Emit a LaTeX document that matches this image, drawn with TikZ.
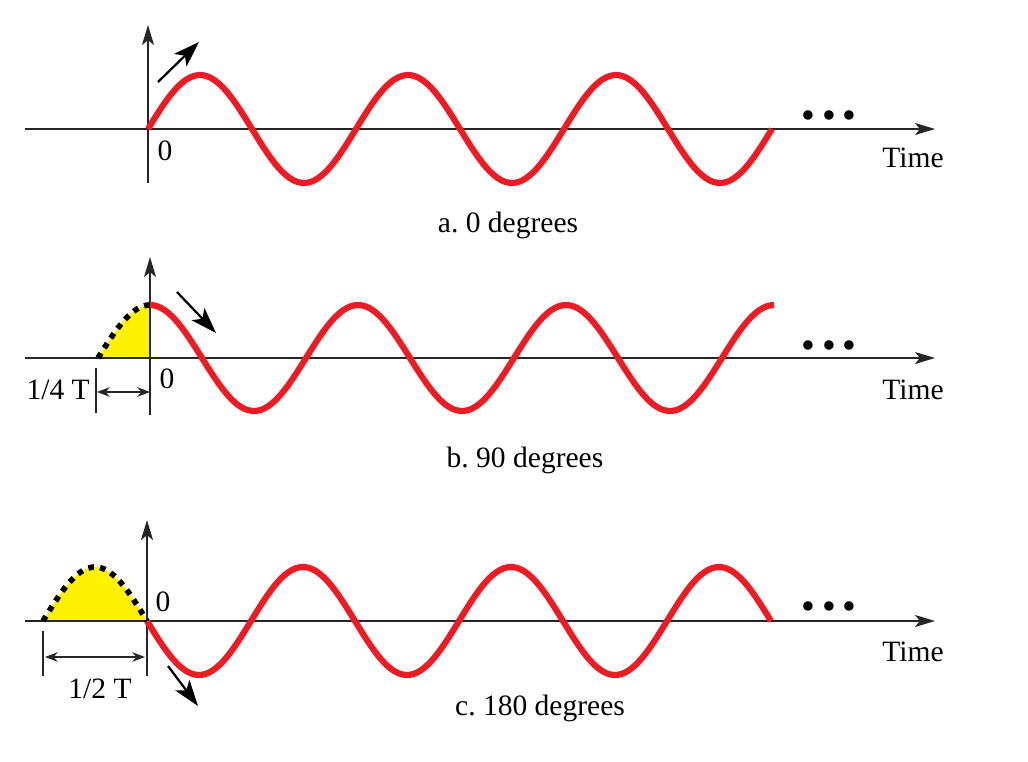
\documentclass[tikz,border=0pt]{standalone}
\usepackage{fontspec}
\setmainfont{Liberation Serif}
\usetikzlibrary{arrows.meta, positioning, calc}
\definecolor{wavered}{RGB}{236,28,36}
\definecolor{areayellow}{RGB}{255,242,0}
\frenchspacing

\begin{document}
\begin{tikzpicture}[
    x=0.025cm, y=-0.025cm,
    axis/.style={-{Stealth[length=5mm, width=3mm, inset=1.2mm]}, line width=1.2pt, black!85},
    vline/.style={line width=1.2pt, black!85},
    wave/.style={wavered, line width=4.4pt},
    halo/.style={black, line width=4pt, dash pattern=on 4pt off 4.4pt},
    hint/.style={-{Stealth[length=6.5mm, width=4.4mm, inset=1.6mm]}, line width=1.6pt, black},
    dim/.style={{Stealth[length=3.2mm, width=2.4mm]}-{Stealth[length=3.2mm, width=2.4mm]}, line width=1pt, black!85},
    lbl/.style={font=\fontsize{21}{24}\selectfont, inner sep=0pt},
    dots/.style={font=\fontsize{28}{28}\selectfont, inner sep=0pt},
  ]
    \useasboundingbox (0,0) rectangle (1028,762);

    % a. 0 degrees
    \coordinate (aL) at (25,129);
    \coordinate (aR) at (935,129);
    \coordinate (aB) at (148,183);
    \coordinate (aT) at (148,25);
    \draw[axis] (aL) -- (aR);
    \draw[axis] (aB) -- (aT);
    \draw[wave] plot[domain=0:624, samples=160] ({148+\x}, {129-54*sin(\x/208*360)});
    \coordinate (aS) at (158,82);
    \coordinate (aE) at (199,42);
    \draw[hint] (aS) -- (aE);
    \node[lbl] (azero) at (165,151) {0};
    \node[lbl] (atime) at (913,158) {Time};
    \node[dots] (adots) at (829,120) {•\hspace{5pt}•\hspace{5pt}•};
    \node[lbl] (acap) at (508,225) {a. 0 degrees};

    % b. 90 degrees
    \coordinate (bL) at (25,358);
    \coordinate (bR) at (935,358);
    \coordinate (bB) at (150,415);
    \coordinate (bT) at (150,257);
    \fill[areayellow] plot[domain=98:150, samples=30] (\x, {358-53*cos((\x-150)/208*360)}) -- (150,358) -- cycle;
    \draw[axis] (bL) -- (bR);
    \draw[axis] (bB) -- (bT);
    \draw[halo] plot[domain=98:150, samples=30] (\x, {358-53*cos((\x-150)/208*360)});
    \draw[wave] plot[domain=0:624, samples=160] ({150+\x}, {358-53*cos(\x/208*360)});
    \coordinate (bS) at (177,292);
    \coordinate (bE) at (216,333);
    \draw[hint] (bS) -- (bE);
    \coordinate (btA) at (96,368);
    \coordinate (btB) at (96,413);
    \draw[vline] (btA) -- (btB);
    \coordinate (bdA) at (97,392);
    \coordinate (bdB) at (150,392);
    \draw[dim] (bdA) -- (bdB);
    \node[lbl, anchor=east] (bquart) at (90,390) {1/4 T};
    \node[lbl] (bzero) at (167,379) {0};
    \node[lbl] (btime) at (913,390) {Time};
    \node[dots] (bdots) at (829,350) {•\hspace{5pt}•\hspace{5pt}•};
    \node[lbl] (bcap) at (525,460) {b. 90 degrees};

    % c. 180 degrees
    \coordinate (cL) at (25,621);
    \coordinate (cR) at (935,621);
    \coordinate (cB) at (147,676);
    \coordinate (cT) at (147,520);
    \fill[areayellow] plot[domain=43:147, samples=40] (\x, {621-54*sin((\x-43)/208*360)}) -- cycle;
    \draw[axis] (cL) -- (cR);
    \draw[axis] (cB) -- (cT);
    \draw[halo] plot[domain=43:147, samples=40] (\x, {621-54*sin((\x-43)/208*360)});
    \draw[wave] plot[domain=0:624, samples=160] ({147+\x}, {621+54*sin(\x/208*360)});
    \coordinate (cS) at (168,666);
    \coordinate (cE) at (198,706);
    \draw[hint] (cS) -- (cE);
    \coordinate (ctA) at (43,631);
    \coordinate (ctB) at (43,676);
    \draw[vline] (ctA) -- (ctB);
    \coordinate (cdA) at (45,657);
    \coordinate (cdB) at (145,657);
    \draw[dim] (cdA) -- (cdB);
    \node[lbl] (chalf) at (100,689) {1/2 T};
    \node[lbl] (czero) at (163,602) {0};
    \node[lbl] (ctime) at (913,652) {Time};
    \node[dots] (cdots) at (829,611) {•\hspace{5pt}•\hspace{5pt}•};
    \node[lbl] (ccap) at (540,708) {c. 180 degrees};
  \end{tikzpicture}
\end{document}
